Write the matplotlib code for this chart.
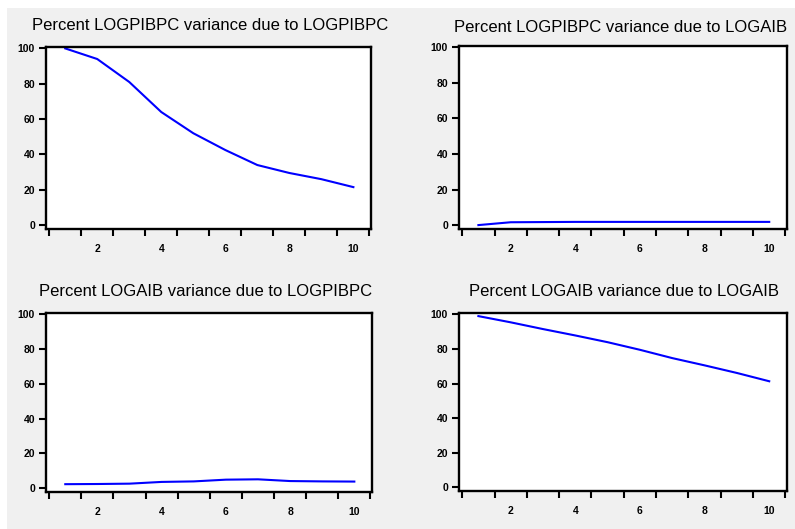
import matplotlib
matplotlib.use("Agg")
import matplotlib.pyplot as plt
from matplotlib.patches import Rectangle

periods = [1, 2, 3, 4, 5, 6, 7, 8, 9, 10]
pib_due_pib = [100, 94.0, 81.0, 64.0, 52.0, 42.5, 34.0, 29.5, 26.0, 21.5]
pib_due_aib = [0.0, 1.6, 1.7, 1.8, 1.8, 1.8, 1.8, 1.8, 1.8, 1.8]
aib_due_pib = [2.3, 2.4, 2.6, 3.6, 3.9, 4.9, 5.1, 4.1, 3.9, 3.8]
aib_due_aib = [99.0, 95.4, 91.5, 87.8, 83.9, 79.5, 74.7, 70.5, 66.1, 61.3]

titles = ["Percent LOGPIBPC variance due to LOGPIBPC",
          "Percent LOGPIBPC variance due to LOGAIB",
          "Percent LOGAIB variance due to LOGPIBPC",
          "Percent LOGAIB variance due to LOGAIB"]
series = [pib_due_pib, pib_due_aib, aib_due_pib, aib_due_aib]
yticks = [0, 20, 40, 60, 80, 100]
xlabels = [2, 4, 6, 8, 10]

W, H = 795, 529
fig = plt.figure(figsize=(W / 100, H / 100), dpi=100)
fig.patch.set_facecolor("white")
fig.patches.append(Rectangle((7 / W, 0), 1 - 7 / W, 1 - 8 / H,
                             transform=fig.transFigure, facecolor="#f0f0f0",
                             edgecolor="none", zorder=-10))

# boxes in pixel coords: left, right, top, bottom
boxes = [(46, 371, 47, 229), (459, 787, 46, 229),
         (46, 372, 313, 492), (459, 787, 313, 491)]
title_pos = [(210, 26), (621, 28), (206, 292), (624, 292)]

plt.rcParams['font.family'] = ['Liberation Sans', 'DejaVu Sans']

for (l, r, t, b), tp, ttl, ys in zip(boxes, title_pos, titles, series):
    ax = fig.add_axes([l / W, 1 - b / H, (r - l) / W, (b - t) / H])
    ax.set_facecolor("white")
    ax.plot(periods, ys, color="#0000ff", lw=1.5)
    ax.set_xlim(0.4, 10.55)
    ax.set_ylim(-2.2, 100.8)
    ax.set_yticks(yticks)
    ax.set_yticklabels([str(v) for v in yticks], fontweight="bold")
    ax.set_xticks([p + 0.5 for p in [0] + periods])
    ax.set_xticklabels([])
    ax.set_xticks(xlabels, minor=True)
    ax.set_xticklabels([str(v) for v in xlabels], minor=True, fontweight="bold")
    ax.tick_params(axis="x", which="major", direction="out", length=5, width=1.5)
    ax.tick_params(axis="x", which="minor", length=0, pad=11, labelsize=7.5)
    ax.tick_params(axis="y", direction="out", length=5, width=1.5, pad=3,
                   labelsize=7.5)
    for s in ax.spines.values():
        s.set_linewidth(1.7)
        s.set_color("black")
    fig.text(tp[0] / W, 1 - tp[1] / H, ttl, ha="center", va="center",
             fontsize=12, color="black")

fig.savefig("out.png", dpi=100, facecolor=fig.get_facecolor())
